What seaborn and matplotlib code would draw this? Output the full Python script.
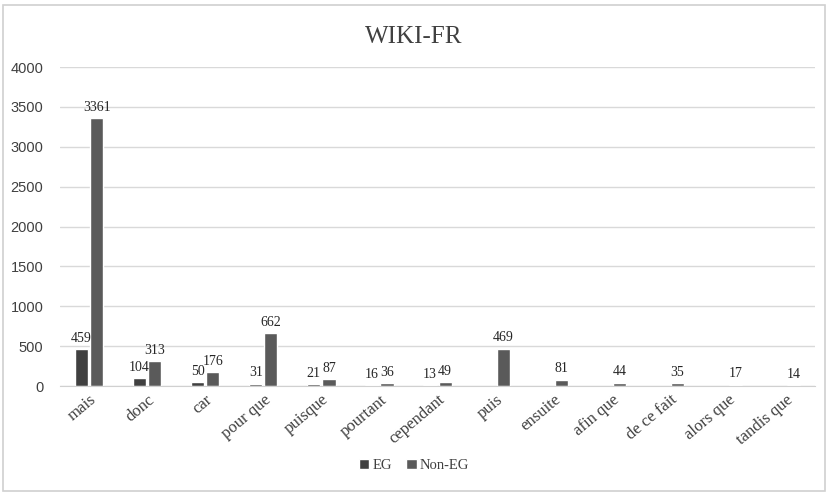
import numpy as np
import pandas as pd
import matplotlib.pyplot as plt
import seaborn as sns
from matplotlib.patches import Rectangle

# Data
categories = ["mais", "donc", "car", "pour que", "puisque", "pourtant", "cependant",
              "puis", "ensuite", "afin que", "de ce fait", "alors que", "tandis que"]
eg_values = [459, 104, 50, 31, 21, 16, 13, np.nan, np.nan, np.nan, np.nan, np.nan, np.nan]
non_eg_values = [3361, 313, 176, 662, 87, 36, 49, 469, 81, 44, 35, 17, 14]
series_names = ["EG", "Non-EG"]
y_ticks = [0, 500, 1000, 1500, 2000, 2500, 3000, 3500, 4000]

df = pd.DataFrame({"category": categories * 2,
                   "series": [series_names[0]] * len(categories) + [series_names[1]] * len(categories),
                   "value": eg_values + non_eg_values})

sns.set_style("white")
plt.rcParams['font.family'] = ['Liberation Serif', 'DejaVu Serif']

fig = plt.figure(figsize=(8.28, 4.93), dpi=100)
ax = fig.add_axes([0.0725, 0.217, 0.912, 0.647])

sns.barplot(data=df, x="category", y="value", hue="series", order=categories,
            hue_order=series_names, palette=["#404040", "#5a5a5a"],
            width=0.52, gap=0.13, saturation=1, ax=ax, legend=True)

# value labels
for cont in ax.containers:
    labels = ["" if np.isnan(v) else f"{int(v)}" for v in cont.datavalues]
    ax.bar_label(cont, labels=labels, padding=3, fontsize=10, color="#262626")

ax.set_ylim(0, 4000)
ax.set_yticks(y_ticks)
ax.set_yticklabels([str(t) for t in y_ticks], family="Liberation Sans", fontsize=10.5)
ax.tick_params(axis="y", length=0, labelcolor="#404040", pad=12)
ax.tick_params(axis="x", labelsize=12, length=0, labelcolor="#404040", pad=4)
plt.setp(ax.get_xticklabels(), rotation=40, ha="right", rotation_mode="anchor")
ax.yaxis.grid(True, color="#d9d9d9", linewidth=1)
ax.set_axisbelow(True)
for s in ["left", "right", "top"]:
    ax.spines[s].set_visible(False)
ax.spines["bottom"].set_color("#d0d0d0")
ax.set_xlabel("")
ax.set_ylabel("")
ax.set_xlim(-0.5, len(categories) - 0.5)

fig.text(0.5, 0.925, "WIKI-FR", ha="center", va="center", fontsize=18, color="#404040")

ax.legend(loc="center", bbox_to_anchor=(0.5, 0.055), bbox_transform=fig.transFigure,
          ncol=2, frameon=False, fontsize=10.5, handlelength=0.7, handleheight=0.7,
          handletextpad=0.2, columnspacing=1.0, labelcolor="#404040")

fig.patches.append(Rectangle((0.004, 0.004), 0.992, 0.985, transform=fig.transFigure,
                             fill=False, edgecolor="#d0d0d0", linewidth=1.2))

fig.savefig("out.png", dpi=100)
